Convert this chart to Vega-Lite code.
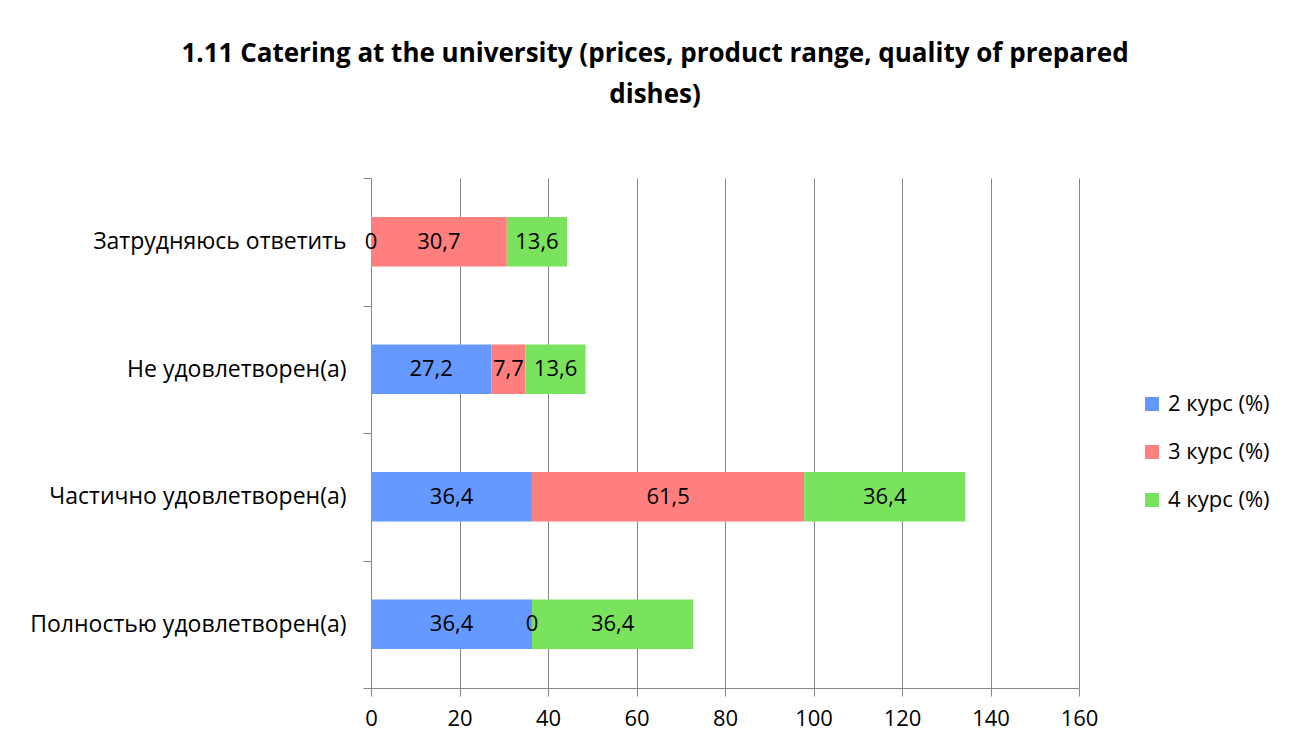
{
  "$schema": "https://vega.github.io/schema/vega-lite/v6.json",
  "autosize": "none",
  "width": 708,
  "height": 510,
  "padding": {"left": 371, "top": 178, "right": 212, "bottom": 57},
  "background": "white",
  "config": {
    "font": "Open Sans",
    "view": {"stroke": null},
    "locale": {"number": {"decimal": ",", "thousands": " ", "grouping": [3], "currency": ["", ""]}}
  },
  "title": {
    "text": ["1.11 Catering at the university (prices, product range, quality of prepared", "dishes)"],
    "fontSize": 26,
    "fontWeight": "bold",
    "font": "Open Sans",
    "color": "black",
    "anchor": "middle",
    "frame": "group",
    "dx": -70,
    "lineHeight": 41,
    "offset": 59
  },
  "data": {
    "values": [
      {"cat": "Затрудняюсь ответить", "course": "2 курс (%)", "value": 0},
      {"cat": "Затрудняюсь ответить", "course": "3 курс (%)", "value": 30.7},
      {"cat": "Затрудняюсь ответить", "course": "4 курс (%)", "value": 13.6},
      {"cat": "Не удовлетворен(а)", "course": "2 курс (%)", "value": 27.2},
      {"cat": "Не удовлетворен(а)", "course": "3 курс (%)", "value": 7.7},
      {"cat": "Не удовлетворен(а)", "course": "4 курс (%)", "value": 13.6},
      {"cat": "Частично удовлетворен(а)", "course": "2 курс (%)", "value": 36.4},
      {"cat": "Частично удовлетворен(а)", "course": "3 курс (%)", "value": 61.5},
      {"cat": "Частично удовлетворен(а)", "course": "4 курс (%)", "value": 36.4},
      {"cat": "Полностью удовлетворен(а)", "course": "2 курс (%)", "value": 36.4},
      {"cat": "Полностью удовлетворен(а)", "course": "3 курс (%)", "value": 0},
      {"cat": "Полностью удовлетворен(а)", "course": "4 курс (%)", "value": 36.4}
    ]
  },
  "encoding": {
    "y": {
      "field": "cat",
      "type": "nominal",
      "sort": ["Затрудняюсь ответить", "Не удовлетворен(а)", "Частично удовлетворен(а)", "Полностью удовлетворен(а)"],
      "scale": {"paddingInner": 0, "paddingOuter": 0},
      "axis": {
        "title": null,
        "labelFontSize": 23,
        "labelColor": "black",
        "labelPadding": 17,
        "labelLimit": 0,
        "tickBand": "extent",
        "tickSize": 8,
        "tickColor": "#868686",
        "domainColor": "#868686",
        "grid": false
      }
    },
    "order": {"field": "course", "type": "nominal", "sort": "ascending"}
  },
  "layer": [
    {
      "mark": {"type": "bar", "height": {"band": 0.39}},
      "encoding": {
        "x": {
          "field": "value",
          "type": "quantitative",
          "stack": "zero",
          "scale": {"domain": [0, 160]},
          "axis": {
            "title": null,
            "values": [0, 20, 40, 60, 80, 100, 120, 140, 160],
            "labelFontSize": 22,
            "labelColor": "black",
            "labelPadding": 12,
            "labelFlush": false,
            "labelOverlap": false,
            "tickSize": 8,
            "tickColor": "#868686",
            "domainColor": "#868686",
            "gridColor": "#868686",
            "gridWidth": 1
          }
        },
        "color": {
          "field": "course",
          "type": "nominal",
          "scale": {"domain": ["2 курс (%)", "3 курс (%)", "4 курс (%)"], "range": ["#6699FF", "#FF7F7F", "#7AE35D"]},
          "legend": {
            "title": null,
            "orient": "none",
            "legendX": 770,
            "legendY": 215,
            "symbolType": "square",
            "symbolSize": 196,
            "symbolStrokeWidth": 0,
            "labelFontSize": 22,
            "labelColor": "black",
            "rowPadding": 26,
            "labelOffset": 5
          }
        }
      }
    },
    {
      "mark": {"type": "text", "fontSize": 22, "color": "black"},
      "encoding": {
        "x": {"field": "value", "type": "quantitative", "stack": "zero", "bandPosition": 0.5},
        "detail": {"field": "course", "type": "nominal"},
        "text": {"field": "value", "type": "quantitative", "format": ".1~f"}
      }
    }
  ]
}
